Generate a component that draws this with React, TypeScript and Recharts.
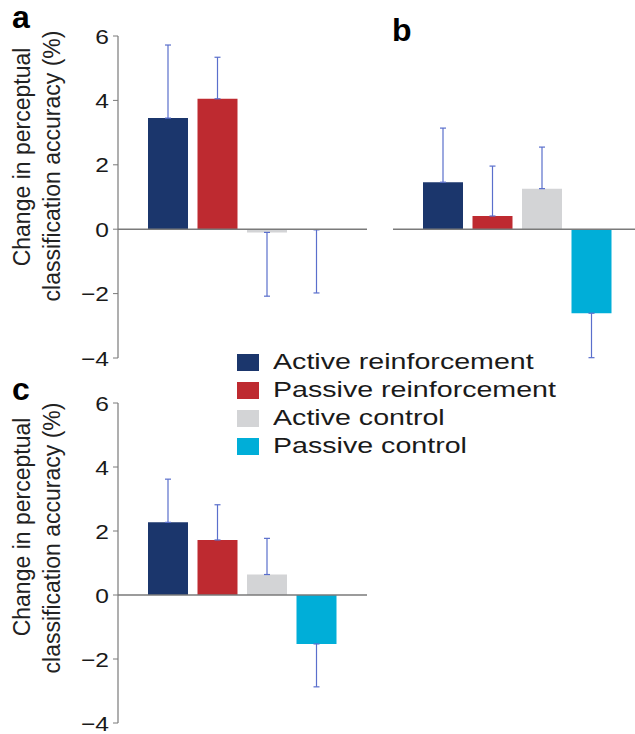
import React from 'react';
import { BarChart, Bar, XAxis, YAxis, ErrorBar, ReferenceLine } from 'recharts';

const conditions = ['Active reinforcement', 'Passive reinforcement', 'Active control', 'Passive control'];
const panelAMeans = [3.45, 4.05, -0.1, -0.02];
const panelAErrors = [2.27, 1.29, 1.98, 1.96];
const panelBMeans = [1.46, 0.41, 1.26, -2.61];
const panelBErrors = [1.68, 1.55, 1.29, 1.38];
const panelCMeans = [2.27, 1.72, 0.64, -1.53];
const panelCErrors = [1.35, 1.1, 1.13, 1.34];
const yTicks = [-4, -2, 0, 2, 4, 6];
const yDomain: [number, number] = [-4, 6];
const titleLines = ['Change in perceptual', 'classification accuracy (%)'];
const panelLabels = ['a', 'b', 'c'];

const barColors = ['#1b366c', '#be2a30', '#d3d4d6', '#00aed8'];
const errColor = '#5a6fcc';
const axisColor = '#7a7a7a';
const FONT = '"Liberation Sans", Arial, Helvetica, sans-serif';

function buildRow(means: number[], errors: number[]) {
  const row: any = { group: 'all' };
  means.forEach((m, i) => {
    row['v' + i] = m;
    row['e' + i] = m > 0 ? [0, errors[i]] : [errors[i], 0];
  });
  return row;
}

const fmt = (v: number) => (v < 0 ? '\u2212' + Math.abs(v) : String(v));

function AxisTick(props: any) {
  const { x, y, payload } = props;
  return (
    <text transform={`translate(${x},${y}) scale(1.17,1)`} textAnchor="end" dy="0.36em" fontSize={21} fontFamily={FONT} fill="#1a1a1a">
      {fmt(payload.value)}
    </text>
  );
}

function TitleLabel(props: any) {
  const { c1, c2 } = props;
  return (
    <g>
      <text x={29.5} y={c1} transform={`rotate(-90, 29.5, ${c1})`} textAnchor="middle" fontSize={23} fontFamily={FONT} fill="#222">
        {titleLines[0]}
      </text>
      <text x={59.5} y={c2} transform={`rotate(-90, 59.5, ${c2})`} textAnchor="middle" fontSize={23} fontFamily={FONT} fill="#222">
        {titleLines[1]}
      </text>
    </g>
  );
}

function Panel(props: any) {
  const { means, errors, width, height, margin, showAxis, c1, c2 } = props;
  const data = [buildRow(means, errors)];
  return (
    <BarChart width={width} height={height} data={data} margin={margin} barSize={40} barGap={9.5}>
      <XAxis dataKey="group" hide />
      <YAxis
        hide={!showAxis}
        width={60}
        domain={yDomain}
        ticks={yTicks}
        interval={0}
        axisLine={{ stroke: axisColor, strokeWidth: 1.2 }}
        tickLine={{ stroke: axisColor, strokeWidth: 1 }}
        tickSize={5}
        tickMargin={4}
        tick={<AxisTick />}
        label={showAxis ? <TitleLabel c1={c1} c2={c2} /> : undefined}
      />
      {conditions.map((c, i) => (
        <Bar key={c} dataKey={'v' + i} name={c} fill={barColors[i]} isAnimationActive={false}>
          <ErrorBar dataKey={'e' + i} stroke={errColor} strokeWidth={1.2} width={3} />
        </Bar>
      ))}
      <ReferenceLine y={0} stroke={axisColor} strokeWidth={1.6} />
    </BarChart>
  );
}

export default function App() {
  return (
    <div style={{ position: 'absolute', left: 0, top: 0, width: 635, height: 734, overflow: 'hidden', background: '#fff' }}>
      <div style={{ position: 'absolute', left: 0, top: 0 }}>
        <Panel means={panelAMeans} errors={panelAErrors} width={380} height={370}
          margin={{ top: 36, right: 13, bottom: 12, left: 58 }} showAxis c1={157} c2={166} />
      </div>
      <div style={{ position: 'absolute', left: 380, top: 0 }}>
        <Panel means={panelBMeans} errors={panelBErrors} width={262} height={370}
          margin={{ top: 36, right: 0, bottom: 12, left: 13 }} showAxis={false} />
      </div>
      <div style={{ position: 'absolute', left: 0, top: 370 }}>
        <Panel means={panelCMeans} errors={panelCErrors} width={380} height={364}
          margin={{ top: 33, right: 13, bottom: 11, left: 58 }} showAxis c1={157} c2={168} />
      </div>
      <svg width={635} height={734} style={{ position: 'absolute', left: 0, top: 0, pointerEvents: 'none' }}>
        <text x={12} y={28} fontSize={32} fontWeight="bold" fontFamily={FONT} fill="#000">{panelLabels[0]}</text>
        <text x={392} y={41} fontSize={32} fontWeight="bold" fontFamily={FONT} fill="#000">{panelLabels[1]}</text>
        <text x={12} y={400} fontSize={32} fontWeight="bold" fontFamily={FONT} fill="#000">{panelLabels[2]}</text>
      </svg>
      <div style={{ position: 'absolute', left: 237, top: 348, fontFamily: FONT }}>
        {conditions.map((c, i) => (
          <div key={c} style={{ height: 28, display: 'flex', alignItems: 'center', whiteSpace: 'nowrap' }}>
            <div style={{ width: 22, height: 17, background: barColors[i], flex: 'none' }} />
            <span style={{ display: 'inline-block', marginLeft: 14, fontSize: 22, lineHeight: '28px', color: '#1a1a1a', transform: 'scaleX(1.3)', transformOrigin: 'left center' }}>
              {c}
            </span>
          </div>
        ))}
      </div>
    </div>
  );
}
